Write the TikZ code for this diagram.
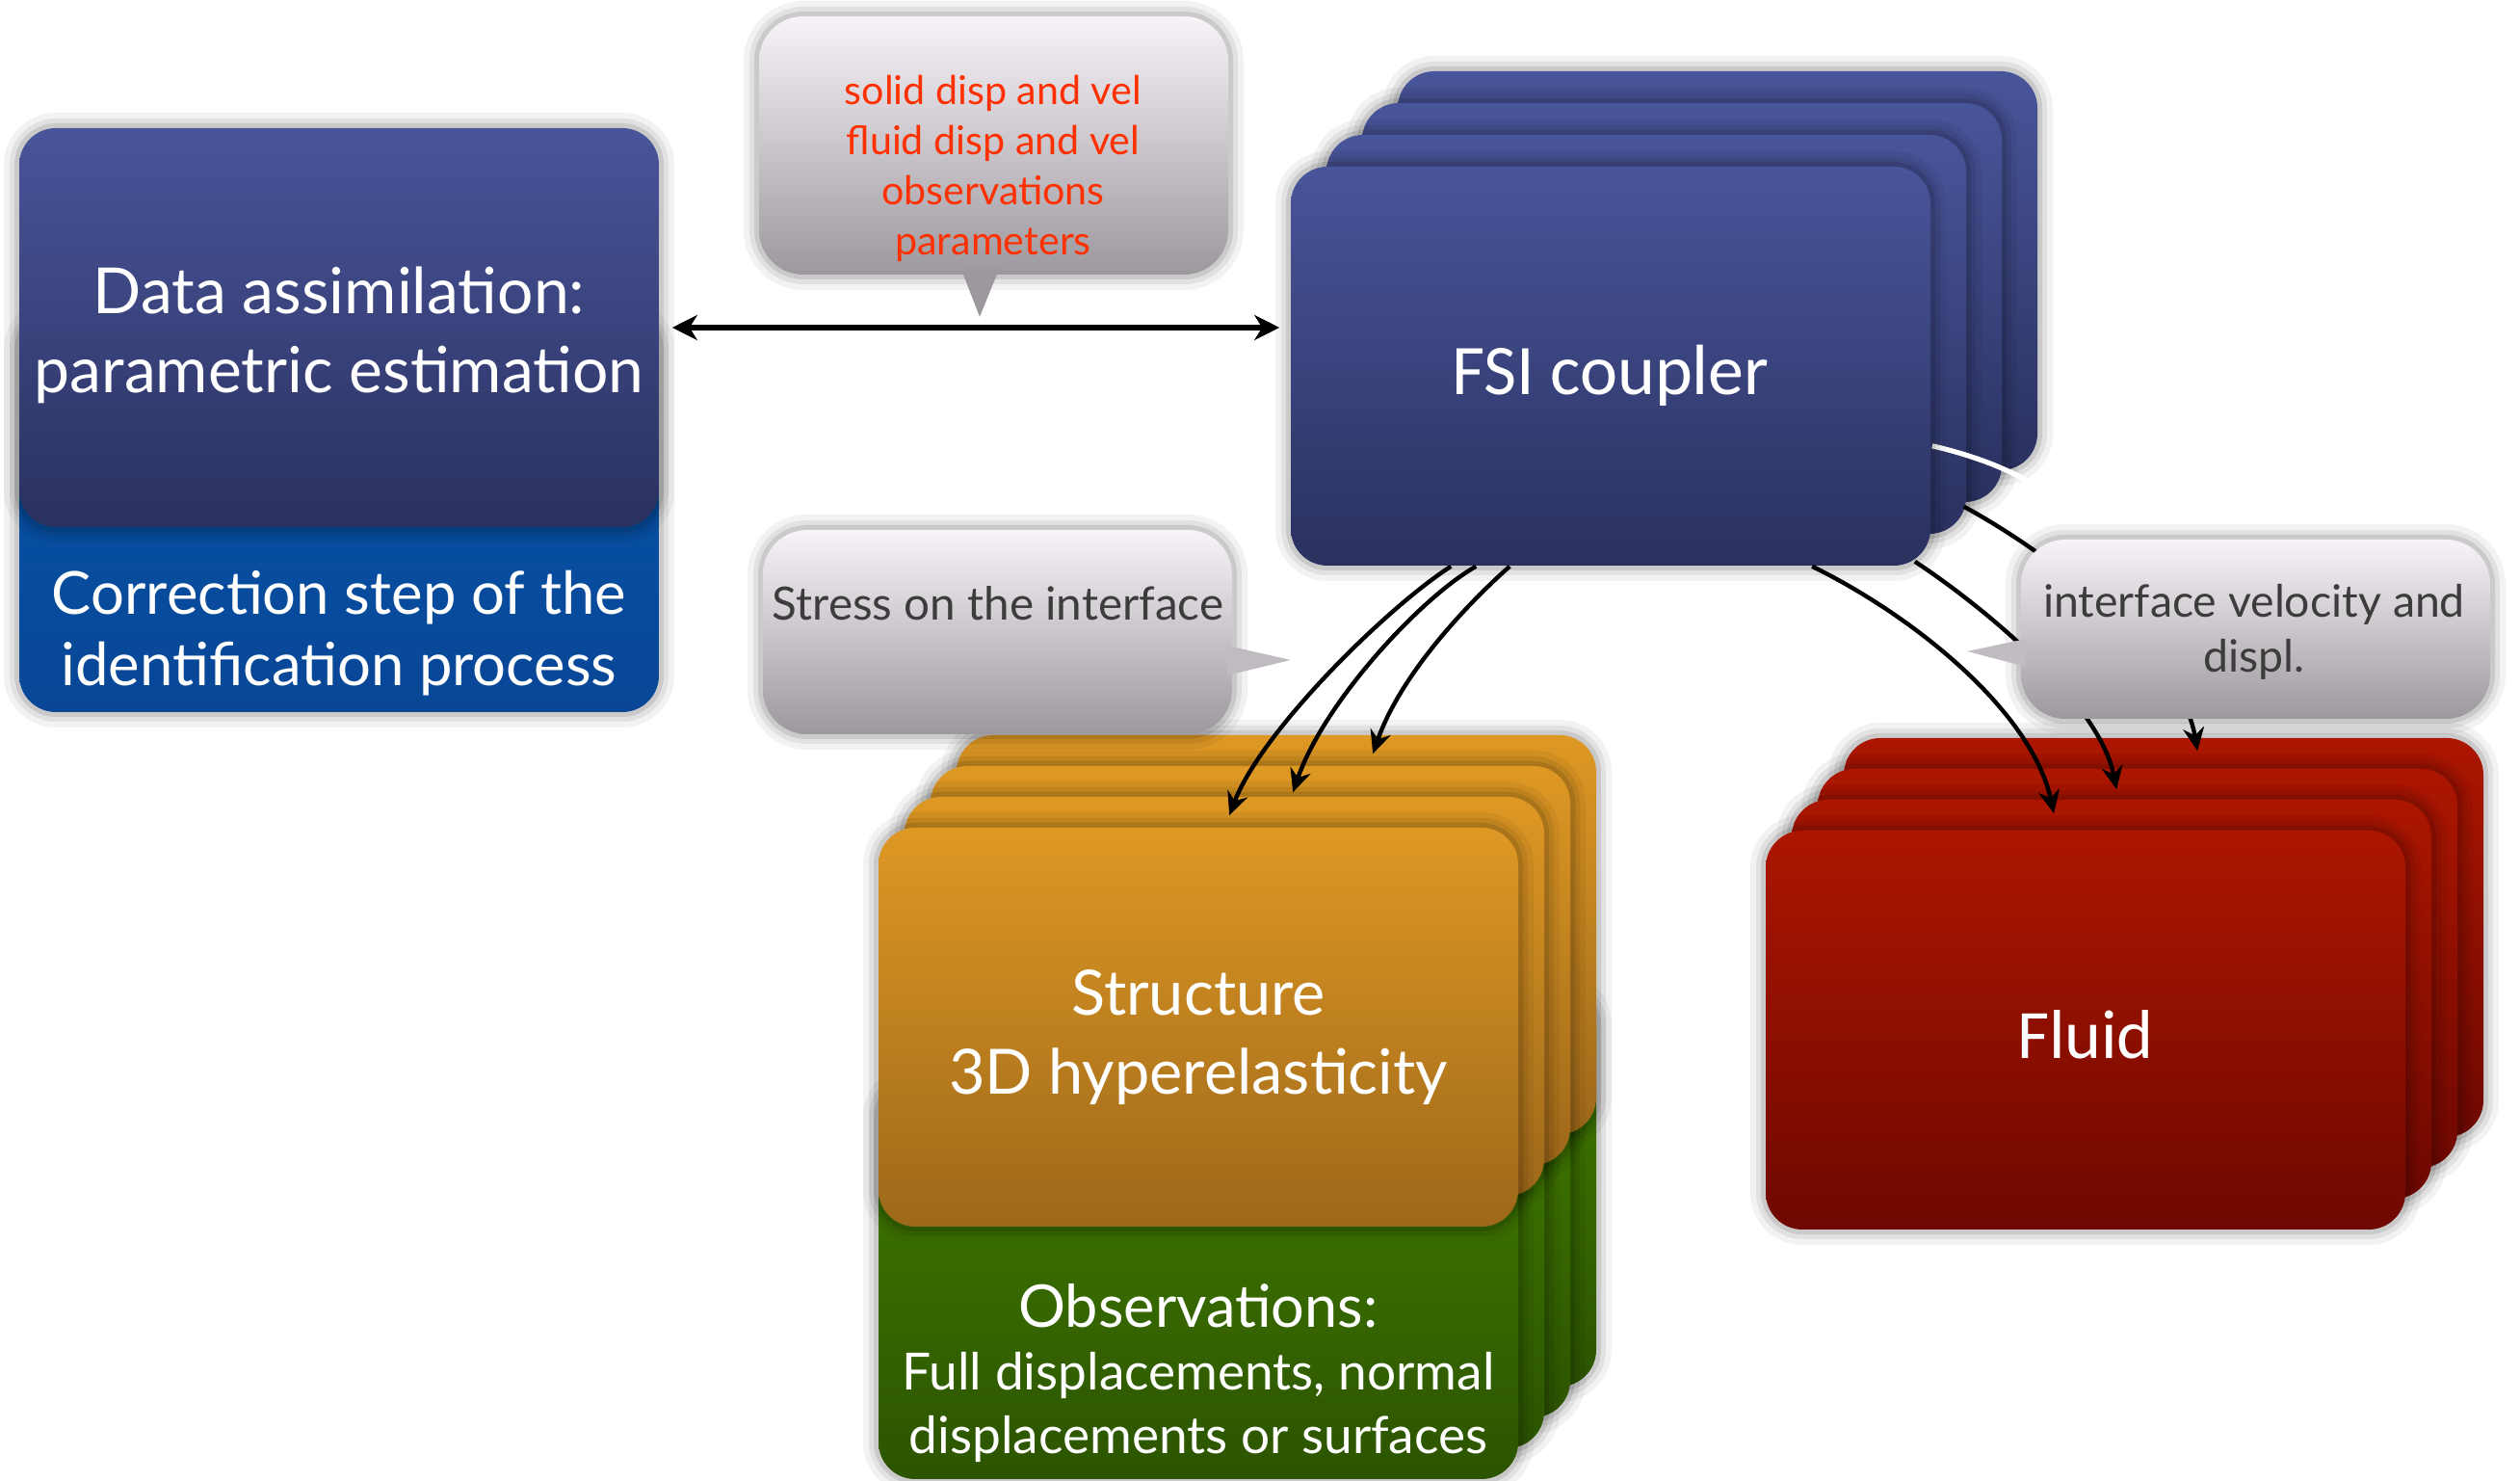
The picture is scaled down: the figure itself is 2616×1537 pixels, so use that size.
\documentclass[tikz,border=0pt]{standalone}
\usepackage{fontspec}
\setmainfont{Lato}
\newfontfamily\calfont{Carlito}
\usetikzlibrary{calc,arrows.meta}
\definecolor{bluetop}{RGB}{73,85,154}
\definecolor{bluebot}{RGB}{42,49,95}
\definecolor{corrtop}{RGB}{5,88,172}
\definecolor{corrbot}{RGB}{9,70,150}
\definecolor{ortop}{RGB}{222,152,36}
\definecolor{orbot}{RGB}{158,104,26}
\definecolor{grtop}{RGB}{66,125,0}
\definecolor{grbot}{RGB}{44,84,0}
\definecolor{redtop}{RGB}{172,22,0}
\definecolor{redbot}{RGB}{110,8,0}
\definecolor{bubtop}{RGB}{248,243,248}
\definecolor{bubbot}{RGB}{157,152,157}
\definecolor{redtxt}{RGB}{255,48,0}
\definecolor{graytxt}{RGB}{60,60,60}
\begin{document}
\begin{tikzpicture}[x=0.25pt,y=-0.25pt,
  soft/.style={preaction={draw=black,draw opacity=0.05,line width=8pt},
               preaction={draw=black,draw opacity=0.07,line width=5pt},
               preaction={draw=black,draw opacity=0.10,line width=2.5pt}},
  card/.style={soft,rounded corners=9.5pt,minimum width=166pt,minimum height=103.5pt,
               inner sep=0pt},
  bluecard/.style={card,top color=bluetop,bottom color=bluebot},
  corrcard/.style={card,top color=corrtop,bottom color=corrbot},
  orcard/.style={card,top color=ortop,bottom color=orbot},
  grcard/.style={card,top color=grtop,bottom color=grbot},
  redcard/.style={card,top color=redtop,bottom color=redbot},
  bubble/.style={soft,rounded corners=11.5pt,minimum width=121.75pt,inner sep=0pt,
                 top color=bubtop,bottom color=bubbot},
  txt/.style={inner sep=0pt,align=center,text=white},
  conn/.style={line width=1.1pt,-{Stealth[length=6pt,width=5.5pt,inset=2pt]}},
  dbl/.style={line width=1.4pt,{Stealth[length=6.5pt,width=6.5pt,inset=2pt]}-{Stealth[length=6.5pt,width=6.5pt,inset=2pt]}}
]
\useasboundingbox (0,0) rectangle (2616,1537);

% Data assimilation
\node[corrcard] (corr) at (352,532) {};
\node[bluecard] (da) at (352,340) {};
\node[txt,font=\fontsize{16.5}{20.5}\selectfont] (datxt) at (352,348)
  {Data assimilation:\\parametric estimation};
\node[txt,font=\fontsize{15.4}{18.5}\selectfont] (corrtxt) at (352,657)
  {Correction step of the\\identification process};

% FSI coupler stack
\node[bluecard] (fsi4) at (1783,281) {};
\node[bluecard] (fsi3) at (1746,314) {};
\node[bluecard] (fsi2) at (1709,347) {};
\draw[white,line width=1.3pt] ($(fsi2.south east)+(-36,-92)$) .. controls +(35,8) and +(-28,-16) .. ($(fsi2.south east)+(62,-56)$);
\node[bluecard] (fsi) at (1672,380) {};
\node[txt,font=\calfont\fontsize{18.5}{22}\selectfont] (fsitxt) at (1672,390) {FSI coupler};

% Structure / observations stack
\node[grcard] (obs4) at (1325,1232) {};
\node[grcard] (obs3) at (1298,1264) {};
\node[grcard] (obs2) at (1271,1296) {};
\node[grcard] (obs) at (1244,1328) {};
\node[orcard] (st4) at (1325,970) {};
\node[orcard] (st3) at (1298,1002) {};
\node[orcard] (st2) at (1271,1034) {};
\node[orcard] (st) at (1244,1066) {};
\node[txt,font=\fontsize{16.2}{20.5}\selectfont] (sttxt) at (1244,1077) {Structure\\3D hyperelasticity};
\node[txt,font=\fontsize{13.3}{16.4}\selectfont] (obstxt) at (1244,1425)
  {{\fontsize{15.3}{16.4}\selectfont Observations:}\\Full displacements, normal\\displacements or surfaces};

% Fluid stack
\node[redcard] (fl4) at (2246,973) {};
\node[redcard] (fl3) at (2219,1005) {};
\node[redcard] (fl2) at (2192,1037) {};
\node[redcard] (fl) at (2165,1069) {};
\node[txt,font=\calfont\fontsize{18}{22}\selectfont] (fltxt) at (2165,1074) {Fluid};

% Connectors FSI -> structure
\draw[conn] ($(fsi.south west)+(167,0)$) .. controls +(-67,43) and +(33,-87) .. ($(st.north west)+(365,-12)$);
\draw[conn] ($(fsi.south west)+(193,0)$) .. controls +(-58,33) and +(32,-93) .. ($(st2.north west)+(404,-4)$);
\draw[conn] ($(fsi.south west)+(228,0)$) .. controls +(-43,38) and +(29,-83) .. ($(st3.north west)+(460,-12)$);

% Connectors FSI -> fluid
\draw[conn] ($(fsi.south west)+(542,0)$) .. controls +(108,53) and +(-23,-105) .. ($(fl.north west)+(300,-17)$);
\draw[conn] ($(fsi.south east)+(-17,-5)$) .. controls +(73,48) and +(-18,-90) .. ($(fl2.north west)+(338,-10)$);
\draw[conn] ($(fsi.south east)+(34,-62)$) .. controls +(92,50) and +(-17,-100) .. ($(fl3.north west)+(395,-18)$);

% Speech bubbles
\node[bubble,minimum height=67pt] (b1) at (1031.5,151) {};
\fill[bubbot] ($(b1.south)+(-33.5,-6)$) -- ($(b1.south)+(-14.5,43)$) -- ($(b1.south)+(5.5,-6)$) -- cycle;
\node[txt,text=redtxt,font=\fontsize{10.3}{13}\selectfont] (b1txt) at (1031,175)
  {solid disp and vel\\fluid disp and vel\\observations\\parameters};

\node[bubble,minimum height=53pt] (b2) at (1035.5,656) {};
\fill[bubbot!62!bubtop] ($(b2.east)+(-6,14)$) -- ($(b2.east)+(60,29)$) -- ($(b2.east)+(-6,45)$) -- cycle;
\node[txt,text=graytxt,anchor=base,font=\fontsize{11.9}{14}\selectfont] (b2txt) at (1036,644)
  {Stress on the interface};

\node[bubble,minimum height=46.5pt] (b3) at (2341.5,653) {};
\fill[bubbot!60!bubtop] ($(b3.west)+(6,10)$) -- ($(b3.west)+(-55,23)$) -- ($(b3.west)+(6,39)$) -- cycle;
\node[txt,text=graytxt,font=\fontsize{11.6}{14.25}\selectfont] (b3txt) at (2340,656)
  {interface velocity and\\displ.};

% Double arrow
\draw[dbl,shorten <=3.25pt,shorten >=2.75pt] (da.east) -- (da.east -| fsi.west);
\end{tikzpicture}
\end{document}
